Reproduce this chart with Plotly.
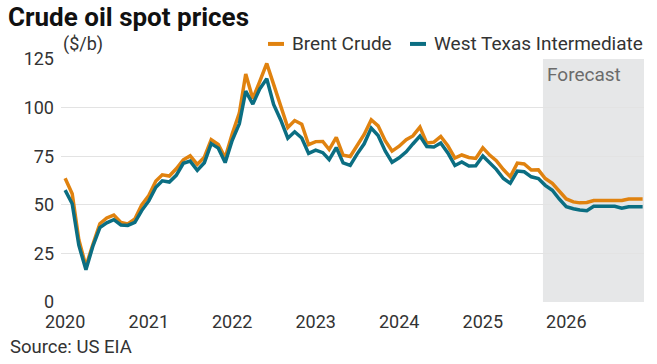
import pandas as pd
import plotly.graph_objects as go

# ---- data (monthly, $/b) ----
months = pd.date_range("2020-01-01", periods=84, freq="MS")

brent = [
    63.65, 55.66, 32.01, 18.38, 29.38, 40.27, 43.24, 44.74, 40.91, 40.19, 42.69, 49.99,
    54.77, 62.28, 65.41, 64.81, 68.53, 73.16, 75.17, 70.75, 74.49, 83.54, 81.05, 74.17,
    86.51, 97.13, 117.25, 104.58, 113.34, 122.71, 111.93, 100.45, 89.76, 93.33, 91.42, 80.92,
    82.50, 82.59, 78.43, 84.64, 75.47, 74.84, 80.11, 86.15, 93.72, 90.60, 82.94, 77.63,
    80.12, 83.48, 85.41, 89.94, 81.75, 82.25, 85.15, 80.36, 74.02, 75.63, 74.35, 73.86,
    79.27, 75.44, 72.73, 68.13, 64.45, 71.44, 71.04, 67.87, 67.99, 63.5, 61.0, 57.0,
    53.0, 51.5, 51.0, 51.2, 52.2, 52.2, 52.2, 52.2, 52.2, 53.0, 53.0, 53.0,
]

wti = [
    57.52, 50.54, 29.21, 16.55, 28.56, 38.31, 40.71, 42.34, 39.63, 39.40, 40.94, 47.02,
    52.00, 59.04, 62.33, 61.72, 65.17, 71.38, 72.49, 67.73, 71.65, 81.48, 79.15, 71.71,
    83.22, 91.64, 108.50, 101.78, 109.55, 114.84, 101.62, 93.67, 84.26, 87.55, 84.37, 76.44,
    78.12, 76.83, 73.28, 79.45, 71.58, 70.25, 76.07, 81.39, 89.43, 85.64, 77.69, 71.90,
    74.15, 77.25, 81.28, 85.35, 80.02, 79.77, 81.80, 76.68, 70.24, 71.99, 69.95, 70.12,
    75.10, 71.53, 68.24, 63.54, 61.06, 67.33, 67.0, 64.4, 63.5, 60.0, 57.5, 53.0,
    49.0, 48.0, 47.3, 47.0, 49.2, 49.2, 49.2, 49.2, 48.2, 49.0, 49.0, 49.0,
]

series_names = ["Brent Crude", "West Texas Intermediate"]

year_ticks = ["2020-01-01", "2021-01-01", "2022-01-01", "2023-01-01",
              "2024-01-01", "2025-01-01", "2026-01-01"]
year_labels = ["2020", "2021", "2022", "2023", "2024", "2025", "2026"]
y_ticks = [0, 25, 50, 75, 100, 125]

forecast_start = "2025-09-21"
x_range = ["2019-12-14", "2026-12-07"]

ORANGE = "#E0820F"
TEAL = "#0B6E82"
FONT = "Roboto"
TEXT = "#333333"

fig = go.Figure()
fig.add_trace(go.Scatter(x=months, y=brent, mode="lines", name=series_names[0],
                         line=dict(color=ORANGE, width=3.5)))
fig.add_trace(go.Scatter(x=months, y=wti, mode="lines", name=series_names[1],
                         line=dict(color=TEAL, width=3.5)))

# forecast shading
fig.add_shape(type="rect", xref="x", yref="paper", x0=forecast_start, x1=x_range[1],
              y0=0, y1=1, fillcolor="#E6E7E8", line=dict(width=0), layer="below")
fig.add_annotation(x=forecast_start, xref="x", y=1, yref="paper", text="Forecast",
                   showarrow=False, xanchor="left", yanchor="top", xshift=2, yshift=-2,
                   font=dict(family=FONT, size=19, color="#6b6b6b"))

# unit label
fig.add_annotation(x=0, xref="paper", y=1.062, yref="paper", text="($/b)",
                   showarrow=False, xanchor="left", yanchor="middle",
                   font=dict(family=FONT, size=18, color=TEXT))

# legend (compact swatches, as in the reference)
legend_items = [(series_names[0], ORANGE, 0.3551, 0.3825, 0.3928),
                (series_names[1], TEAL, 0.5986, 0.6261, 0.6364)]
for name, col, s0, s1, tx in legend_items:
    fig.add_shape(type="line", xref="paper", yref="paper", x0=s0, x1=s1,
                  y0=1.062, y1=1.062, line=dict(color=col, width=4))
    fig.add_annotation(x=tx, xref="paper", y=1.062, yref="paper", text=name,
                       showarrow=False, xanchor="left", yanchor="middle",
                       font=dict(family=FONT, size=19, color=TEXT))

# source
fig.add_annotation(x=-0.091, xref="paper", y=-0.185, yref="paper", text="Source: US EIA",
                   showarrow=False, xanchor="left", yanchor="middle",
                   font=dict(family=FONT, size=18.5, color=TEXT))

fig.update_layout(
    width=657, height=364,
    margin=dict(l=61, r=13, t=59, b=62, autoexpand=False),
    paper_bgcolor="white", plot_bgcolor="white",
    font=dict(family=FONT, size=18, color=TEXT),
    title=dict(text="<b>Crude oil spot prices</b>", x=8 / 657, xanchor="left",
               y=1 - 17 / 364, yanchor="middle",
               font=dict(family=FONT, size=26, color="#111111")),
    showlegend=False,
)

fig.update_xaxes(type="date", range=x_range, tickvals=year_ticks, ticktext=year_labels,
                 showgrid=False, zeroline=False, showline=False,
                 ticks="outside", ticklen=3, tickcolor="rgba(0,0,0,0)",
                 automargin=False,
                 tickfont=dict(family=FONT, size=18, color=TEXT))
fig.update_yaxes(range=[0, 125], tickvals=y_ticks, showgrid=True, gridcolor="#E3E3E3",
                 gridwidth=1, zeroline=False, showline=False, ticks="",
                 ticklabelstandoff=6, automargin=False,
                 tickfont=dict(family=FONT, size=18, color=TEXT))

fig.write_html("out.html", config={"displayModeBar": False},
               post_script="document.body.style.margin='0';")
